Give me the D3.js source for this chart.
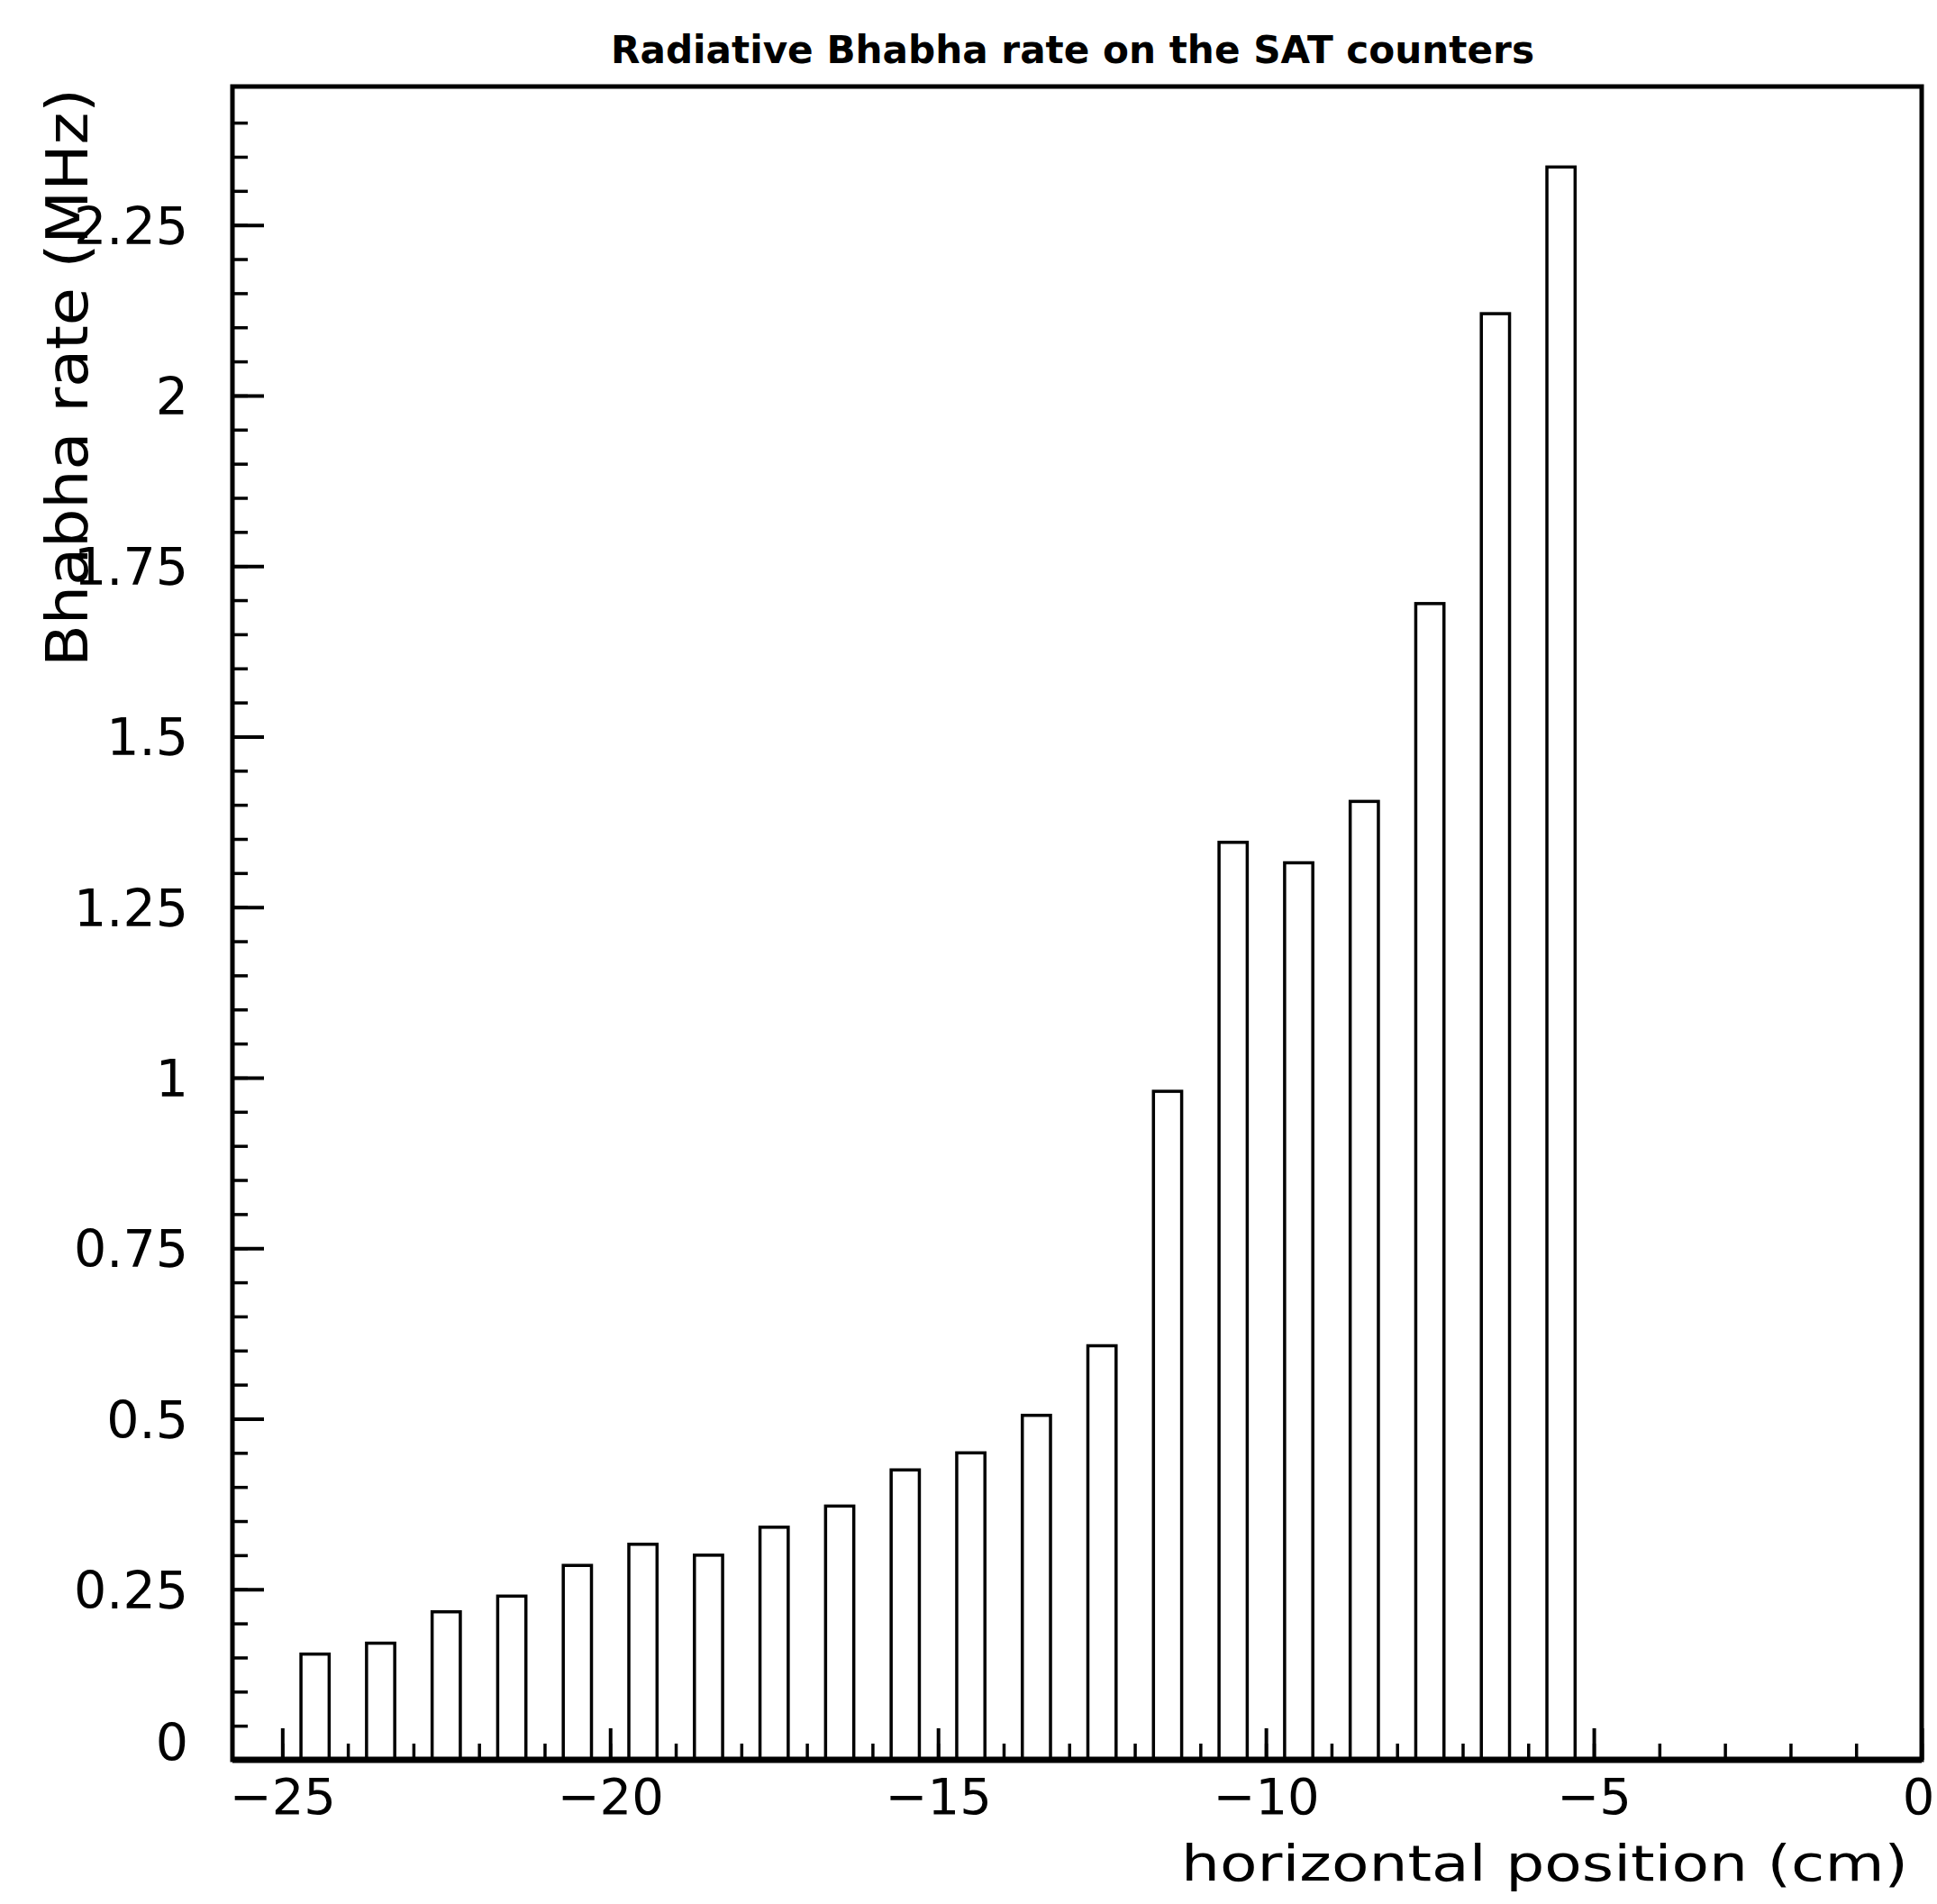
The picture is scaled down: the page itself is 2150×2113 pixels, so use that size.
<!DOCTYPE html>
<html>
<head>
<meta charset="utf-8">
<script src="https://cdn.jsdelivr.net/npm/d3@7"></script>
<style>
  body { margin: 0; background: #fff; }
  svg { display: block; }
  text { font-family: "DejaVu Sans", sans-serif; fill: #000; }
</style>
</head>
<body>
<svg id="chart"></svg>
<script>
// bin centres (cm) and measured rate per bin (MHz)
const positions = [-24.5, -23.5, -22.5, -21.5, -20.5, -19.5, -18.5, -17.5, -16.5, -15.5,
                   -14.5, -13.5, -12.5, -11.5, -10.5, -9.5, -8.5, -7.5, -6.5, -5.5];
const rates = [0.155, 0.171, 0.217, 0.240, 0.285, 0.316, 0.300, 0.341, 0.372, 0.425,
               0.450, 0.505, 0.607, 0.980, 1.345, 1.315, 1.405, 1.695, 2.120, 2.335];

const xMajorTicks = [-25, -20, -15, -10, -5, 0];
const xTickLabels = ["\u221225", "\u221220", "\u221215", "\u221210", "\u22125", "0"];
const yMajorTicks = [0, 0.25, 0.5, 0.75, 1, 1.25, 1.5, 1.75, 2, 2.25];
const yTickLabels = ["0", "0.25", "0.5", "0.75", "1", "1.25", "1.5", "1.75", "2", "2.25"];

const title = "Radiative Bhabha rate on the SAT counters";
const xTitle = "horizontal position (cm)";
const yTitle = "Bhabha rate (MHz)";

const W = 2150, H = 2113;
const margin = { top: 96, right: 17, bottom: 160, left: 258 };
const width = W - margin.left - margin.right;
const height = H - margin.top - margin.bottom;

const svg = d3.select("#chart").attr("width", W).attr("height", H);
svg.append("rect").attr("width", W).attr("height", H).attr("fill", "#fff");

const g = svg.append("g").attr("transform", `translate(${margin.left},${margin.top})`);

const x = d3.scaleLinear().domain([-25.76, 0]).range([0, width]);
const y = d3.scaleLinear().domain([0, 2.453]).range([height, 0]);

const barW = 0.43;

// bars (outline only, like the PAW bar chart)
g.selectAll(".bar")
  .data(positions)
  .enter().append("rect")
  .attr("class", "bar")
  .attr("x", d => x(d - barW / 2))
  .attr("y", (d, i) => y(rates[i]))
  .attr("width", d => x(d + barW / 2) - x(d - barW / 2))
  .attr("height", (d, i) => y(0) - y(rates[i]))
  .attr("fill", "none")
  .attr("stroke", "#000")
  .attr("stroke-width", 3.5);

// minor ticks
const xMinor = d3.range(-25, 0.5, 1);
const yMinor = d3.range(0, 2.45, 0.05);

g.append("g")
  .attr("transform", `translate(0,${height})`)
  .call(d3.axisBottom(x).tickValues(xMinor).tickSizeInner(-18).tickSizeOuter(0).tickFormat(""))
  .call(a => a.select(".domain").remove())
  .selectAll("line").attr("stroke-width", 3.5);

g.append("g")
  .call(d3.axisLeft(y).tickValues(yMinor).tickSizeInner(-17).tickSizeOuter(0).tickFormat(""))
  .call(a => a.select(".domain").remove())
  .selectAll("line").attr("stroke-width", 3.5);

// major ticks + labels
const xAxis = g.append("g")
  .attr("transform", `translate(0,${height})`)
  .call(d3.axisBottom(x).tickValues(xMajorTicks).tickSizeInner(-35).tickSizeOuter(0)
    .tickPadding(20).tickFormat((d, i) => xTickLabels[i]));
xAxis.select(".domain").remove();
xAxis.selectAll("line").attr("stroke-width", 4);
xAxis.selectAll("text").attr("font-size", 56).attr("font-family", "DejaVu Sans")
  .attr("dx", d => d === 0 ? -4 : 0);

const yAxis = g.append("g")
  .call(d3.axisLeft(y).tickValues(yMajorTicks).tickSizeInner(-35).tickSizeOuter(0)
    .tickPadding(49).tickFormat((d, i) => yTickLabels[i]));
yAxis.select(".domain").remove();
yAxis.selectAll("line").attr("stroke-width", 4);
yAxis.selectAll("text").attr("font-size", 57).attr("font-family", "DejaVu Sans")
  .attr("dy", d => d === 0 ? "0.0em" : "0.36em");

// frame
g.append("rect")
  .attr("x", 0).attr("y", 0)
  .attr("width", width).attr("height", height)
  .attr("fill", "none")
  .attr("stroke", "#000")
  .attr("stroke-width", 5);
g.append("line")
  .attr("x1", 0).attr("x2", width)
  .attr("y1", height).attr("y2", height)
  .attr("stroke", "#000").attr("stroke-width", 7);

// titles
svg.append("text")
  .attr("x", margin.left + width / 2 - 5)
  .attr("y", 70)
  .attr("text-anchor", "middle")
  .attr("font-size", 42)
  .attr("font-weight", "bold")
  .attr("textLength", 1025)
  .attr("lengthAdjust", "spacingAndGlyphs")
  .text(title);

svg.append("text")
  .attr("x", margin.left + width - 15)
  .attr("y", 2087)
  .attr("text-anchor", "end")
  .attr("font-size", 56)
  .attr("textLength", 807)
  .attr("lengthAdjust", "spacingAndGlyphs")
  .text(xTitle);

svg.append("text")
  .attr("transform", `translate(97,${margin.top + 2}) rotate(-90)`)
  .attr("text-anchor", "end")
  .attr("font-size", 64)
  .attr("textLength", 642)
  .attr("lengthAdjust", "spacingAndGlyphs")
  .text(yTitle);
</script>
</body>
</html>
